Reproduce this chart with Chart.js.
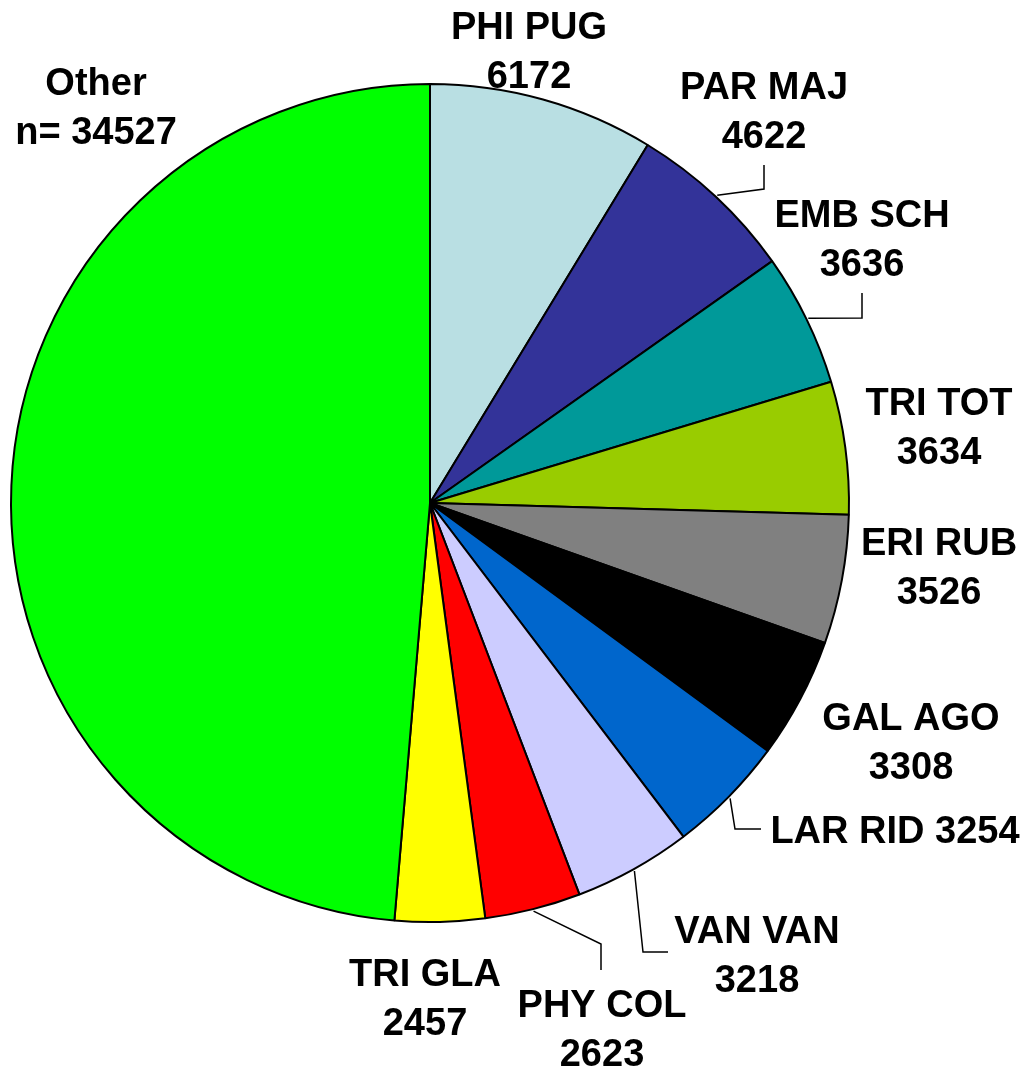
<!DOCTYPE html>
<html>
<head>
<meta charset="utf-8">
<script src="https://cdn.jsdelivr.net/npm/chart.js@4.4.1/dist/chart.umd.min.js"></script>
<style>
  html, body { margin: 0; padding: 0; background: #fff; }
  #pie { display: block; }
</style>
</head>
<body>
<canvas id="pie" width="1025" height="1072"></canvas>
<script>
// species codes and counts, clockwise from 12 o'clock
const species = ['PHI PUG', 'PAR MAJ', 'EMB SCH', 'TRI TOT', 'ERI RUB', 'GAL AGO',
                 'LAR RID', 'VAN VAN', 'PHY COL', 'TRI GLA', 'Other'];
const counts = [6172, 4622, 3636, 3634, 3526, 3308, 3254, 3218, 2623, 2457, 34527];
const sliceColors = ['#B9DFE3', '#333399', '#009999', '#99CC00', '#808080', '#000000',
                     '#0066CC', '#CCCCFF', '#FF0000', '#FFFF00', '#00FF00'];

// where each label sits, as offsets (px) from the pie centre; y = baseline of first row
// leader: elbow and end point of the connector, also relative to the centre
const labelLayout = [
  { x: 99,   y: -464 },
  { x: 334,  y: -404, leader: [[334, -314], [334, -338]] },
  { x: 432,  y: -276, leader: [[432, -185], [432, -210]] },
  { x: 509,  y: -88 },
  { x: 509,  y: 52 },
  { x: 481,  y: 227 },
  { x: 465,  y: 340, oneLine: true, leader: [[305, 326], [331, 326]] },
  { x: 327,  y: 440, leader: [[213, 449], [238, 449]] },
  { x: 172,  y: 514, leader: [[171, 441], [171, 467]] },
  { x: -5,   y: 483 },
  { x: -334, y: -408, prefix: 'n= ' }
];

const pieLabels = {
  id: 'pieLabels',
  afterDatasetsDraw(chart) {
    const ctx = chart.ctx;
    const arcs = chart.getDatasetMeta(0).data;
    ctx.save();
    ctx.fillStyle = '#000';
    ctx.strokeStyle = '#000';
    ctx.lineWidth = 1.5;
    ctx.font = 'bold 38px "Liberation Sans", Arial, sans-serif';
    ctx.textAlign = 'center';
    ctx.textBaseline = 'alphabetic';
    arcs.forEach((arc, i) => {
      const cx = arc.x, cy = arc.y;
      const lay = labelLayout[i];
      if (lay.oneLine) {
        ctx.fillText(species[i] + ' ' + counts[i], cx + lay.x, cy + lay.y);
      } else {
        ctx.fillText(species[i], cx + lay.x, cy + lay.y);
        ctx.fillText((lay.prefix || '') + counts[i], cx + lay.x, cy + lay.y + 49);
      }
      if (lay.leader) {
        const mid = (arc.startAngle + arc.endAngle) / 2;
        const r = arc.outerRadius + 2;
        ctx.beginPath();
        ctx.moveTo(cx + Math.cos(mid) * r, cy + Math.sin(mid) * r);
        lay.leader.forEach(p => ctx.lineTo(cx + p[0], cy + p[1]));
        ctx.stroke();
      }
    });
    ctx.restore();
  }
};

new Chart(document.getElementById('pie').getContext('2d'), {
  type: 'pie',
  data: {
    labels: species,
    datasets: [{
      data: counts,
      backgroundColor: sliceColors,
      borderColor: '#000',
      borderWidth: 2
    }]
  },
  options: {
    responsive: false,
    animation: false,
    layout: { padding: { left: 10, top: 83, right: 175, bottom: 149 } },
    plugins: {
      legend: { display: false },
      tooltip: { enabled: false }
    }
  },
  plugins: [pieLabels]
});
</script>
</body>
</html>
